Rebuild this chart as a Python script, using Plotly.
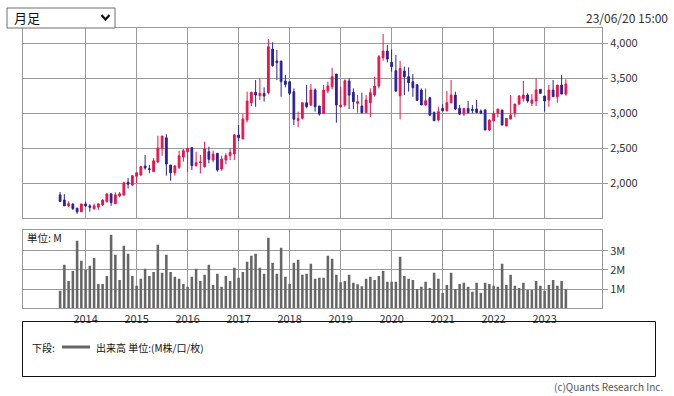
import plotly.graph_objects as go

# ---- data (monthly, Jul 2013 - Jun 2023) ----
months = []
y, m = 2013, 7
for _ in range(120):
    months.append(f"{y}-{m:02d}")
    m += 1
    if m > 12:
        m = 1
        y += 1

opens = [1835, 1762, 1678, 1703, 1645, 1592,
         1705, 1678, 1638, 1660, 1690, 1738, 1848, 1708, 1822, 1833, 2016, 1976,
         2100, 2119, 2248, 2208, 2167, 2305, 2495, 2650, 2262, 2152, 2229, 2376,
         2452, 2510, 2252, 2295, 2238, 2452, 2333, 2429, 2205, 2333, 2395, 2419,
         2690, 2633, 2905, 3152, 3300, 3252, 3286, 3295, 3919, 3748, 3748, 3462,
         3452, 3310, 2900, 2929, 3152, 3119, 3333, 3105, 3000, 3319, 3381, 3562,
         3095, 3119, 3462, 3300, 3143, 3105, 3010, 3152, 3262, 3390, 3795, 3890,
         3729, 3610, 3252, 3605, 3524, 3452, 3410, 3333, 3119, 3224, 3014, 2905,
         3071, 3038, 3152, 3262, 3071, 2990, 3071, 3057, 3062, 3033, 3048, 2762,
         2895, 3000, 3048, 2819, 2919, 3000, 3133, 3214, 3262, 3143, 3176, 3343,
         3248, 3190, 3333, 3238, 3405, 3276]
highs = [1875, 1845, 1745, 1716, 1645, 1705,
         1738, 1702, 1710, 1716, 1773, 1860, 1860, 1871, 1876, 2022, 2078, 2120,
         2162, 2252, 2405, 2262, 2360, 2680, 2676, 2702, 2262, 2262, 2467, 2490,
         2505, 2519, 2452, 2405, 2595, 2524, 2467, 2429, 2395, 2429, 2500, 2705,
         2833, 2990, 3310, 3310, 3476, 3500, 3371, 4062, 4014, 3905, 3748, 3548,
         3452, 3357, 3024, 3152, 3405, 3419, 3357, 3105, 3405, 3452, 3652, 3562,
         3381, 3486, 3500, 3357, 3262, 3295, 3262, 3357, 3524, 3833, 4133, 3976,
         3914, 3833, 3748, 3667, 3657, 3562, 3410, 3357, 3357, 3238, 3024, 3095,
         3133, 3319, 3476, 3310, 3119, 3071, 3176, 3119, 3190, 3057, 3057, 2914,
         3033, 3062, 3048, 2929, 3262, 3133, 3262, 3462, 3286, 3276, 3500, 3343,
         3248, 3405, 3476, 3405, 3548, 3486]
lows = [1738, 1678, 1660, 1620, 1565, 1592,
        1660, 1595, 1620, 1620, 1676, 1724, 1678, 1708, 1800, 1824, 1926, 1960,
        2005, 2108, 2195, 2143, 2167, 2286, 2393, 2110, 2038, 2110, 2205, 2310,
        2167, 2190, 2238, 2143, 2224, 2286, 2300, 2167, 2181, 2271, 2333, 2333,
        2605, 2633, 2871, 3105, 3095, 3190, 3167, 3271, 3667, 3476, 3238, 3371,
        3262, 2833, 2800, 2914, 3071, 3105, 3024, 2967, 3000, 3286, 3343, 2867,
        3081, 3095, 3062, 3062, 3010, 3000, 3010, 2943, 3238, 3357, 3752, 3729,
        3595, 3310, 2914, 3262, 3310, 3238, 3185, 3119, 3110, 2962, 2890, 2890,
        3024, 3024, 3143, 3048, 2976, 2962, 3000, 3000, 3000, 2990, 2762, 2748,
        2881, 2943, 2833, 2819, 2914, 2943, 3119, 3167, 3152, 3105, 3105, 3286,
        3024, 3095, 3238, 3152, 3276, 3252]
closes = [1740, 1678, 1708, 1638, 1592, 1705,
          1678, 1657, 1678, 1706, 1762, 1848, 1724, 1836, 1850, 2008, 1988, 2108,
          2150, 2238, 2219, 2198, 2322, 2505, 2676, 2276, 2152, 2248, 2393, 2467,
          2500, 2252, 2295, 2305, 2490, 2343, 2419, 2190, 2348, 2395, 2443, 2690,
          2652, 2919, 3176, 3300, 3262, 3286, 3248, 3952, 3681, 3724, 3452, 3414,
          3286, 2914, 2924, 3152, 3095, 3333, 3095, 2990, 3333, 3390, 3524, 3119,
          3119, 3467, 3262, 3167, 3167, 3010, 3190, 3295, 3390, 3810, 3890, 3776,
          3667, 3319, 3643, 3524, 3438, 3367, 3185, 3119, 3181, 2976, 2895, 3024,
          3038, 3152, 3262, 3062, 2990, 3071, 3010, 3043, 3014, 3005, 2762, 2905,
          3000, 3062, 2833, 2929, 2976, 3133, 3248, 3262, 3176, 3190, 3333, 3286,
          3176, 3333, 3238, 3405, 3276, 3419]
volume_m = [0.91, 2.27, 1.43, 1.95, 3.53, 2.48,
            2.01, 2.22, 2.62, 1.27, 1.27, 1.69, 3.84, 2.79, 1.48, 3.26, 2.84, 1.69,
            1.17, 1.54, 2.06, 1.69, 1.90, 3.32, 1.85, 2.79, 1.90, 1.64, 1.54, 1.27,
            1.12, 1.64, 2.06, 1.43, 1.75, 2.27, 1.22, 1.80, 1.12, 1.69, 1.43, 2.11,
            1.59, 1.90, 2.43, 2.74, 2.84, 2.11, 1.80, 3.68, 2.37, 1.80, 3.16, 1.64,
            1.27, 2.37, 2.53, 1.75, 1.80, 2.32, 1.54, 1.59, 1.59, 2.74, 2.58, 1.75,
            1.36, 1.43, 1.75, 1.33, 1.26, 1.15, 1.54, 1.64, 1.48, 1.69, 1.95, 1.38,
            1.38, 1.38, 2.69, 1.69, 1.54, 1.48, 1.01, 1.12, 1.38, 1.06, 1.85, 1.54,
            0.80, 1.22, 1.85, 1.01, 1.27, 1.33, 1.12, 0.86, 1.33, 0.80, 1.33, 1.27,
            1.17, 1.12, 2.32, 1.22, 1.75, 1.17, 1.06, 1.33, 0.96, 0.96, 1.43, 1.17,
            0.91, 1.22, 1.48, 1.17, 1.43, 1.01]
volume = [v * 1e6 for v in volume_m]

year_ticks = [f"{yr}-01" for yr in range(2014, 2024)]
year_labels = [str(yr) for yr in range(2014, 2024)]
price_ticks = [2000, 2500, 3000, 3500, 4000]
vol_ticks = [1e6, 2e6, 3e6]
vol_tick_labels = ["1M", "2M", "3M"]

# ---- layout helpers ----
W, H = 674, 396
def px(x):
    return x / W
def py(y):
    return 1 - y / H

FONT = "Noto Sans CJK JP, Noto Sans, sans-serif"
GRID = "#9a9a9a"
RED = "#F0124A"
BLUE = "#2B2399"

fig = go.Figure()
fig.add_trace(go.Candlestick(
    x=months, open=opens, high=highs, low=lows, close=closes,
    increasing=dict(line=dict(color=RED, width=1), fillcolor=RED),
    decreasing=dict(line=dict(color=BLUE, width=1), fillcolor=BLUE),
    whiskerwidth=0, xaxis="x", yaxis="y", hoverinfo="skip", showlegend=False,
))
fig.add_trace(go.Bar(
    x=months, y=volume, marker=dict(color="#666666", line=dict(width=0)),
    xaxis="x2", yaxis="y2", showlegend=False, hoverinfo="skip",
))

xdom = [px(22.7), px(602)]
xrange = [-8.8, 127.5]
common_x = dict(type="category", categoryorder="array", categoryarray=months,
                range=xrange, domain=xdom, tickvals=year_ticks, ticktext=year_labels,
                showgrid=True, gridcolor=GRID, gridwidth=1, showline=True,
                linecolor=GRID, linewidth=1, mirror=True, zeroline=False, ticks="")
fig.update_layout(
    width=W, height=H, margin=dict(l=0, r=0, t=0, b=0),
    paper_bgcolor="white", plot_bgcolor="white",
    font=dict(family=FONT, size=11, color="#333333"),
    bargap=0.4, boxgap=0.4,
    xaxis=dict(**common_x, anchor="y", showticklabels=False,
               rangeslider=dict(visible=False)),
    yaxis=dict(domain=[py(218.3), py(28)], range=[1500, 4220], side="right",
               tickvals=price_ticks, tickformat=",", ticks="outside", ticklen=5,
               tickcolor=GRID, showgrid=True, gridcolor=GRID, showline=True,
               linecolor=GRID, mirror=True, zeroline=False, anchor="x",
               tickfont=dict(size=11, color="#333333")),
    xaxis2=dict(**common_x, anchor="y2", showticklabels=True, ticklabelstandoff=0,
                tickfont=dict(size=11, color="#333333")),
    yaxis2=dict(domain=[py(308.3), py(229.7)], range=[0, 4.1e6], side="right",
                tickvals=vol_ticks, ticktext=vol_tick_labels, ticks="outside",
                ticklen=5, tickcolor=GRID, showgrid=True, gridcolor=GRID,
                showline=True, linecolor=GRID, mirror=True, zeroline=False,
                anchor="x2", tickfont=dict(size=11, color="#333333")),
)

shapes = [
    # dropdown box
    dict(type="rect", xref="paper", yref="paper", x0=px(7), x1=px(115),
         y0=py(28), y1=py(8), line=dict(color="#6e6e6e", width=1),
         fillcolor="white", layer="above"),
    # dropdown chevron
    dict(type="path", xref="paper", yref="paper",
         path=f"M {px(101.5)},{py(15)} L {px(105.5)},{py(19.5)} L {px(109.5)},{py(15)}",
         line=dict(color="#111111", width=2.2), layer="above"),
    # legend box
    dict(type="rect", xref="paper", yref="paper", x0=px(22.5), x1=px(655.5),
         y0=py(376.5), y1=py(321.5), line=dict(color="#111111", width=1),
         fillcolor="rgba(0,0,0,0)"),
    # legend line sample
    dict(type="line", xref="paper", yref="paper", x0=px(62), x1=px(90),
         y0=py(347), y1=py(347), line=dict(color="#666666", width=3)),
]
annotations = [
    dict(text="月足", x=px(12), y=py(18), xref="paper", yref="paper",
         xanchor="left", yanchor="middle", showarrow=False,
         font=dict(size=13, color="#111111")),
    dict(text="23/06/20 15:00", x=px(670), y=py(17), xref="paper", yref="paper",
         xanchor="right", yanchor="middle", showarrow=False,
         font=dict(size=12, color="#333333")),
    dict(text="単位: M", x=px(25), y=py(237), xref="paper", yref="paper",
         xanchor="left", yanchor="middle", showarrow=False,
         font=dict(size=10.5, color="#222222")),
    dict(text="下段:", x=px(30), y=py(347), xref="paper", yref="paper",
         xanchor="left", yanchor="middle", showarrow=False,
         font=dict(size=10, color="#111111")),
    dict(text="出来高 単位:(M株/口/枚)", x=px(94), y=py(347), xref="paper", yref="paper",
         xanchor="left", yanchor="middle", showarrow=False,
         font=dict(size=10, color="#111111")),
    dict(text="(c)Quants Research Inc.", x=px(665), y=py(386), xref="paper", yref="paper",
         xanchor="right", yanchor="middle", showarrow=False,
         font=dict(size=10, color="#555555")),
]
fig.update_layout(shapes=shapes, annotations=annotations)

fig.write_html("out.html", config={"displayModeBar": False},
               post_script="document.body.style.margin='0';document.body.style.padding='0';")
